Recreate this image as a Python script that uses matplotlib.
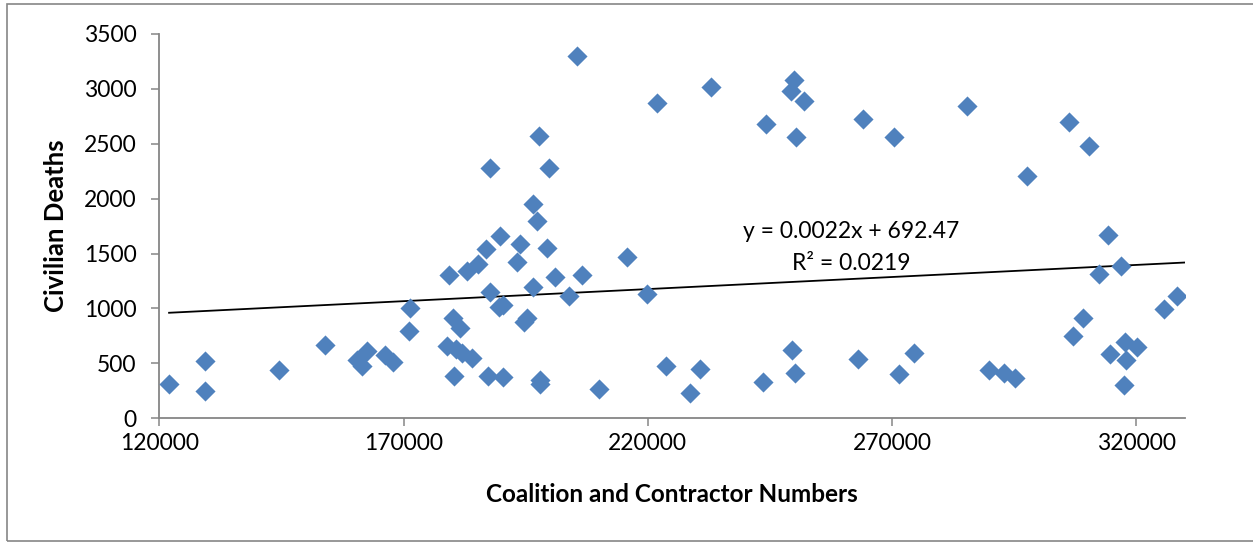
import matplotlib.pyplot as plt
from matplotlib.patches import Rectangle

# coalition + contractor headcount vs. civilian deaths
troops = [122000, 129300, 129300, 144500, 153900, 160400, 161400, 162500, 166300, 167900,
          171300, 171200, 179400, 179000, 180300, 180100, 181600, 180800, 181900, 184000,
          182900, 185200, 186900, 189700, 187800, 187200, 190400, 187800, 189500, 190400,
          193200, 193900, 196600, 197300, 199400, 196600, 201000, 206500, 203900, 215700,
          219800, 194600, 195200, 198000, 198000, 210000, 223700, 230700, 228700, 243700,
          249600, 250200, 263000, 205600, 197800, 199800, 222000, 233000, 249900, 249300,
          251900, 244300, 250400, 264000, 270400, 285300, 306200, 310300, 297600, 314300,
          316900, 312300, 328300, 325700, 309200, 307000, 314700, 317700, 320100, 317900,
          317500, 274500, 271500, 289900, 293000, 295100]
deaths = [312, 519, 251, 443, 665, 528, 479, 616, 576, 513,
          1007, 798, 1305, 661, 385, 910, 825, 631, 592, 546,
          1344, 1402, 1539, 1660, 2279, 388, 379, 1153, 1015, 1035,
          1426, 1587, 1955, 1799, 1553, 1193, 1289, 1305, 1116, 1471,
          1134, 880, 910, 349, 315, 267, 479, 446, 228, 333,
          622, 415, 540, 3299, 2573, 2279, 2868, 3019, 3080, 2983,
          2892, 2677, 2564, 2725, 2558, 2846, 2695, 2482, 2203, 1669,
          1389, 1314, 1116, 992, 916, 752, 585, 692, 652, 531,
          303, 592, 403, 440, 410, 370]

slope = 0.0022
intercept = 692.47
r2 = 0.0219

plt.rcParams['font.family'] = ['Lato', 'DejaVu Sans']
grey = '#868686'
W, H = 1253, 542

fig = plt.figure(figsize=(W / 100, H / 100), dpi=100)
fig.patches.append(Rectangle((7 / W, 1 / H), 1.0, 537 / H, transform=fig.transFigure,
                             fill=False, edgecolor=grey, linewidth=1.2))
ax = fig.add_axes([159.3 / W, 1 - 418.3 / H, (1185 - 159.3) / W, (418.3 - 33.9) / H])

ax.scatter(troops, deaths, marker='D', s=105, color='#4F81BD', linewidths=0, zorder=3)

# linear trendline, drawn from the fitted equation
x0 = min(troops)
x1 = 330000
ax.plot([x0, x1], [slope * x0 + intercept, slope * x1 + intercept], color='black', lw=1.3, zorder=2)

fig.text(851 / W, 1 - 232 / H, f'y = {slope}x + {intercept}', ha='center', va='center', fontsize=16.5)
fig.text(851 / W, 1 - 263 / H, f'R² = {r2}', ha='center', va='center', fontsize=16.5)

ax.set_xlim(120000, 330000)
ax.set_ylim(0, 3500)
ax.set_xticks(range(120000, 330001, 50000))
ax.set_yticks(range(0, 3501, 500))

for side in ['top', 'right']:
    ax.spines[side].set_visible(False)
for side in ['left', 'bottom']:
    ax.spines[side].set_color(grey)
    ax.spines[side].set_linewidth(1.3)

ax.tick_params(axis='both', direction='out', length=5.5, width=1.1, color=grey, labelsize=16.5)
ax.tick_params(axis='y', pad=11)
ax.tick_params(axis='x', pad=5)

ax.set_xlabel('Coalition and Contractor Numbers', fontsize=17.5, fontweight='bold', labelpad=21)
ax.set_ylabel('Civilian Deaths', fontsize=18.5, fontweight='bold', labelpad=11)

fig.savefig('out.png', dpi=100)
